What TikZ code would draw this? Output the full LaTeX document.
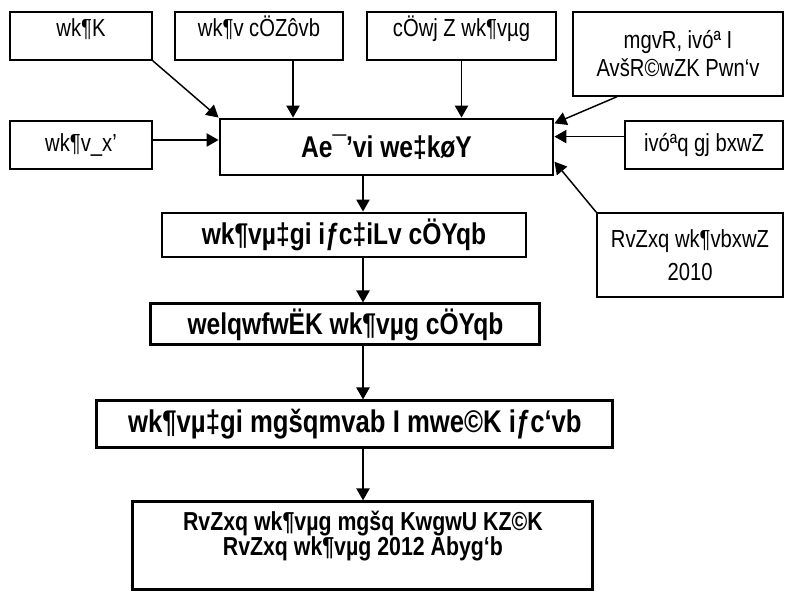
\documentclass[tikz,border=0pt]{standalone}
\usepackage{fontspec}
\setmainfont{Liberation Sans}[FakeStretch=0.82]
\usetikzlibrary{arrows.meta, positioning}

\begin{document}
\begin{tikzpicture}[
    x=0.75pt, y=-0.75pt,
    src/.style={draw, line width=1.1pt, align=center, inner sep=0pt, font=\fontsize{18.5}{21}\selectfont},
    toprow/.style={src, minimum height=36pt, text height=14pt, text depth=13pt},
    stage/.style={draw, line width=2.2pt, align=center, inner sep=0pt, font=\bfseries\fontsize{22.5}{23}\selectfont},
    link/.style={-{Triangle[length=9pt,width=10pt]}, line width=1.1pt}
]
    \useasboundingbox (0,0) rectangle (788,592);

    % centre box and its inputs
    \node (analysis) [stage, minimum width=249.75pt, minimum height=42pt] at (386.5,147) {Ae¯'vi we‡køY};

    \node (teacher) [toprow, minimum width=106.5pt] at (81,36) {wk¶K};
    \node (school) [toprow, minimum width=126pt] at (259,36) {wk¶v cÖZôvb};
    \node (trained) [toprow, minimum width=141.75pt] at (461.5,36) {cÖwj Z wk¶vµg};
    \node (demand) [src, minimum width=157.5pt, minimum height=63pt, font=\fontsize{18.5}{21}\selectfont] at (678,54) {mgvR, ivóª I\\AvšR©wZK Pwn`v};
    \node (learner) [src, minimum width=106.5pt, minimum height=36pt] at (81,145) {wk¶v\_x'};
    \node (policy) [src, minimum width=118.5pt, minimum height=36pt] at (704,145) {ivóªq gj bxwZ};
    \node (edupolicy) [src, minimum width=139.5pt, minimum height=63pt, font=\fontsize{18.5}{25}\selectfont] at (690,255) {RvZxq wk¶vbxwZ\\2010};

    % stages below
    \node (outline) [stage, minimum width=273pt, minimum height=33pt, below=26.3pt of analysis, xshift=-31.9pt] {wk¶vµ‡gi iƒc‡iLv cÖYqb};
    \node (subject) [stage, minimum width=291.75pt, minimum height=30.75pt, below=33pt of outline, xshift=1.1pt] {welqwfwËK wk¶vµg cÖYqb};
    \node (review) [stage, minimum width=387pt, minimum height=35.25pt, below=39.75pt of subject, xshift=7.1pt, font=\bfseries\fontsize{23.5}{24}\selectfont] {wk¶vµ‡gi mgšqmvab I mwe©K iƒc`vb};
    \node (approval) [stage, minimum width=345pt, minimum height=66pt, below=38.25pt of review, xshift=6pt, font=\bfseries\fontsize{19.5}{18.75}\selectfont] {RvZxq wk¶vµg mgšq KwgwU KZ©K\\RvZxq wk¶vµg 2012 Abyg`b\\\mbox{}};

    \coordinate (spine) at (363,0);

    \draw [link] (teacher.south east) -- (analysis.north west);
    \draw [link] (school.324) -- (school.324 |- analysis.north);
    \draw [link] (trained.south) -- (trained.south |- analysis.north);
    \draw [link] (demand.215) -- (analysis.8);
    \draw [link] (learner.4) -- (learner.4 -| analysis.west);
    \draw [link] (policy.174) -- (policy.174 -| analysis.east);
    \draw [link] (edupolicy.north west) -- (analysis.-5);

    \draw [link] (analysis.south -| spine) -- (outline.north -| spine);
    \draw [link] (outline.south -| spine) -- (subject.north -| spine);
    \draw [link] (subject.south -| spine) -- (review.north -| spine);
    \draw [link] (review.south -| spine) -- (approval.north -| spine);
\end{tikzpicture}
\end{document}
